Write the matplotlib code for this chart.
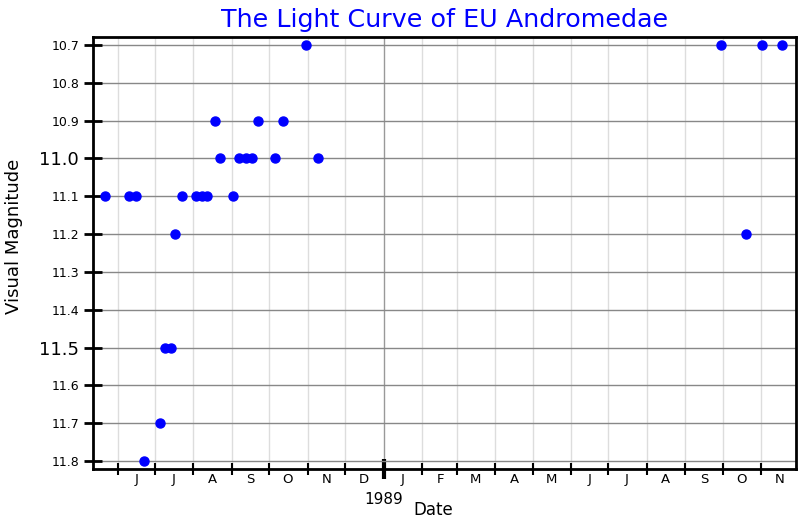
import datetime as dt
import matplotlib
matplotlib.use("Agg")
import matplotlib.pyplot as plt
import matplotlib.dates as mdates
from matplotlib.ticker import FixedLocator, FormatStrFormatter

obs_dates = [
    "1988-05-22", "1988-06-10", "1988-06-16", "1988-06-22", "1988-07-05",
    "1988-07-09", "1988-07-14", "1988-07-17", "1988-07-23", "1988-08-03",
    "1988-08-08", "1988-08-12", "1988-08-18", "1988-08-22", "1988-09-02",
    "1988-09-07", "1988-09-12", "1988-09-17", "1988-09-22", "1988-10-06",
    "1988-10-12", "1988-10-31", "1988-11-09",
    "1989-09-30", "1989-10-20", "1989-11-02", "1989-11-18",
]
magnitudes = [
    11.1, 11.1, 11.1, 11.8, 11.7,
    11.5, 11.5, 11.2, 11.1, 11.1,
    11.1, 11.1, 10.9, 11.0, 11.1,
    11.0, 11.0, 11.0, 10.9, 11.0,
    10.9, 10.7, 11.0,
    10.7, 11.2, 10.7, 10.7,
]

x_start = dt.datetime(1988, 5, 12)
x_end = dt.datetime(1989, 11, 29)
big_ticks = [11.0, 11.5]
small_ticks = [10.7, 10.8, 10.9, 11.1, 11.2, 11.3, 11.4, 11.6, 11.7, 11.8]

dates = [dt.datetime.strptime(d, "%Y-%m-%d") for d in obs_dates]

fig = plt.figure(figsize=(8, 5.2), dpi=100)
ax = fig.add_axes([0.116, 0.098, 0.879, 0.831])

ax.plot(dates, magnitudes, 'o', color='blue', markersize=6.5, zorder=3)

ax.set_xlim(x_start, x_end)
ax.set_ylim(11.821, 10.679)

# y axis: 11.0 and 11.5 are drawn bigger
ax.yaxis.set_major_locator(FixedLocator(big_ticks))
ax.yaxis.set_minor_locator(FixedLocator(small_ticks))
ax.yaxis.set_major_formatter(FormatStrFormatter('%.1f'))
ax.yaxis.set_minor_formatter(FormatStrFormatter('%.1f'))
ax.tick_params(axis='y', which='major', labelsize=13, direction='inout', length=13, width=2)
ax.tick_params(axis='y', which='minor', labelsize=9, direction='inout', length=13, width=2)

# x axis: year tick at 1989, month ticks
ax.xaxis.set_major_locator(mdates.YearLocator())
ax.xaxis.set_major_formatter(mdates.DateFormatter('%Y'))
ax.xaxis.set_minor_locator(mdates.MonthLocator())
ax.tick_params(axis='x', which='major', labelsize=11, direction='inout', length=15, width=3, pad=9)
ax.tick_params(axis='x', which='minor', direction='inout', length=8, width=1.5)

# month initials in the middle of each month (only for whole months)
first_month = mdates.date2num(dt.datetime(1988, 6, 1))


def month_letter(v, pos):
    if v < first_month:
        return ''
    return mdates.num2date(v).strftime('%b')[0]


sec = ax.secondary_xaxis('bottom')
sec.xaxis.set_major_locator(mdates.MonthLocator(bymonthday=16))
sec.xaxis.set_major_formatter(plt.FuncFormatter(month_letter))
sec.tick_params(axis='x', length=0, labelsize=9.5, pad=3)
sec.spines['bottom'].set_visible(False)

ax.grid(True, axis='y', which='both', color='#888888', linewidth=1)
ax.grid(True, axis='x', which='minor', color='#dddddd', linewidth=1)
ax.grid(True, axis='x', which='major', color='#999999', linewidth=1)

for s in ax.spines.values():
    s.set_linewidth(2)

ax.set_title('The Light Curve of EU Andromedae', color='blue', fontsize=18.3, pad=7)
ax.set_xlabel('Date', fontsize=12)
ax.xaxis.set_label_coords(0.484, -0.075)
ax.set_ylabel('Visual Magnitude', fontsize=13)
ax.yaxis.set_label_coords(-0.099, 0.539)

fig.savefig('out.png', dpi=100)
